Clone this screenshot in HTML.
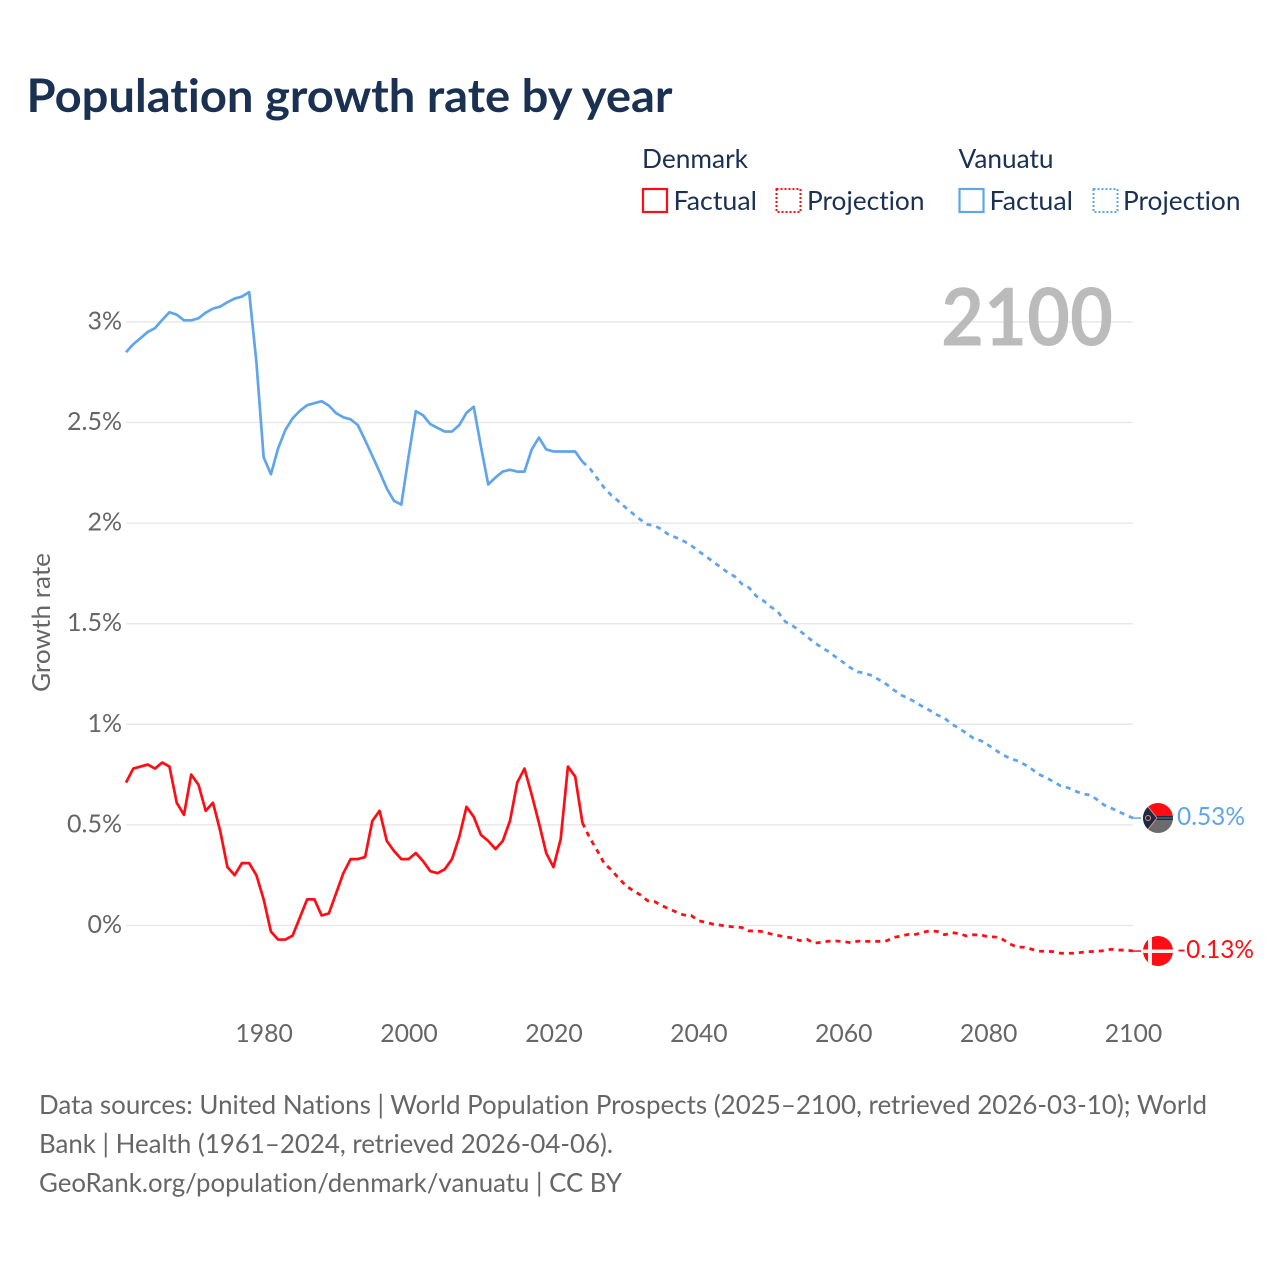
<!DOCTYPE html>
<html lang="en">
<head>
<meta charset="utf-8">
<title>Population growth rate by year</title>
<style>
html,body{margin:0;padding:0;background:#fff;width:1280px;height:1280px;overflow:hidden}
svg{display:block}
text{font-family:"Lato","Carlito","Liberation Sans",sans-serif;font-variant-ligatures:none}
</style>
</head>
<body>
<svg id="chart" xmlns="http://www.w3.org/2000/svg" width="1280" height="1280" viewBox="0 0 1280 1280">
  <defs>
    <clipPath id="vu-clip"><circle cx="1158" cy="818" r="15"/></clipPath>
    <clipPath id="dk-clip"><circle cx="1158" cy="951" r="15"/></clipPath>
  </defs>
  <rect x="0" y="0" width="1280" height="1280" fill="#fff"/>
  <text x="26.500" y="112" font-size="46" font-weight="700" fill="#1a3152" textLength="646" lengthAdjust="spacingAndGlyphs">Population growth rate by year</text>

  <g font-size="26" fill="#1a3152">
    <text x="642" y="168" textLength="106" lengthAdjust="spacingAndGlyphs">Denmark</text>
    <text x="958.500" y="168" textLength="95" lengthAdjust="spacingAndGlyphs">Vanuatu</text>
    <rect x="643" y="189" width="24" height="23" fill="none" stroke="#ff0d14" stroke-width="2.200"/>
    <text x="673.500" y="210" textLength="83.500" lengthAdjust="spacingAndGlyphs">Factual</text>
    <rect x="776.500" y="189" width="24" height="23" fill="none" stroke="#ff0d14" stroke-width="2" stroke-dasharray="2 2"/>
    <text x="807" y="210" textLength="117.500" lengthAdjust="spacingAndGlyphs">Projection</text>
    <rect x="959.500" y="189" width="24" height="23" fill="none" stroke="#60a5ec" stroke-width="2.200"/>
    <text x="989.500" y="210" textLength="83.500" lengthAdjust="spacingAndGlyphs">Factual</text>
    <rect x="1093.500" y="189" width="24" height="23" fill="none" stroke="#60a5ec" stroke-width="2" stroke-dasharray="2 2"/>
    <text x="1123" y="210" textLength="117.500" lengthAdjust="spacingAndGlyphs">Projection</text>
  </g>

  <g id="grid"></g>
  <text x="941" y="345.500" font-size="80" font-weight="700" fill="#bbbbbb" textLength="172" lengthAdjust="spacingAndGlyphs">2100</text>
  <g id="y-ticks"></g>
  <g id="x-ticks"></g>
  <text transform="translate(50 622.500) rotate(-90)" text-anchor="middle" font-size="25" fill="#666" textLength="139" lengthAdjust="spacingAndGlyphs">Growth rate</text>

  <g id="series"></g>

  <g clip-path="url(#vu-clip)">
    <rect x="1143" y="803" width="30" height="15" fill="#ff0d14"/>
    <rect x="1143" y="818" width="30" height="15" fill="#6b6b6b"/>
    <rect x="1155" y="816" width="18" height="4" fill="#1a2b45"/>
    <polygon points="1143,803 1145,803 1157,818 1145,833 1143,833" fill="#1a2b45"/>
    <polyline points="1145,803 1157,818 1145,833" fill="none" stroke="#f08a78" stroke-width="1"/>
    <line x1="1157" y1="818" x2="1173" y2="818" stroke="#5d7a9a" stroke-width="1"/>
    <circle cx="1148" cy="818" r="2.500" fill="none" stroke="#f08a78" stroke-width="1"/>
  </g>
  <g clip-path="url(#dk-clip)">
    <rect x="1143" y="936" width="30" height="30" fill="#ff0d14"/>
    <rect x="1148" y="936" width="4" height="30" fill="#f4f0f0"/>
    <rect x="1143" y="949.500" width="30" height="3.500" fill="#f4f0f0"/>
  </g>
  <text x="1177" y="825" font-size="25" fill="#60a5ec" textLength="68" lengthAdjust="spacingAndGlyphs">0.53%</text>
  <text x="1177" y="958" font-size="25" fill="#ff0d14" textLength="77" lengthAdjust="spacingAndGlyphs">-0.13%</text>

  <g font-size="26" fill="#666">
    <text x="39" y="1114" textLength="1168" lengthAdjust="spacingAndGlyphs">Data sources: United Nations | World Population Prospects (2025–2100, retrieved 2026-03-10); World</text>
    <text x="39" y="1153" textLength="574" lengthAdjust="spacingAndGlyphs">Bank | Health (1961–2024, retrieved 2026-04-06).</text>
    <text x="39" y="1192" textLength="583" lengthAdjust="spacingAndGlyphs">GeoRank.org/population/denmark/vanuatu | CC BY</text>
  </g>
</svg>
<script>
const yTickValues = [0, 0.5, 1, 1.5, 2, 2.5, 3];
const yTickLabels = ["0%", "0.5%", "1%", "1.5%", "2%", "2.5%", "3%"];
const xTickValues = [1980, 2000, 2020, 2040, 2060, 2080, 2100];
const xTickLabels = ["1980", "2000", "2020", "2040", "2060", "2080", "2100"];
const factualStartYear = 1961;
const projectionStartYear = 2025;

const denmarkFactual = [
  0.71, 0.78, 0.79, 0.80, 0.78, 0.81, 0.79, 0.61, 0.55, 0.75,
  0.70, 0.57, 0.61, 0.47, 0.29, 0.25, 0.31, 0.31, 0.25, 0.13,
  -0.03, -0.07, -0.07, -0.05, 0.04, 0.13, 0.13, 0.05, 0.06, 0.16,
  0.26, 0.33, 0.33, 0.34, 0.52, 0.57, 0.42, 0.37, 0.33, 0.33,
  0.36, 0.32, 0.27, 0.26, 0.28, 0.33, 0.44, 0.59, 0.54, 0.45,
  0.42, 0.38, 0.42, 0.52, 0.71, 0.78, 0.65, 0.51, 0.36, 0.29,
  0.43, 0.79, 0.74, 0.51
];
const denmarkProjection = [
  0.436, 0.375, 0.309, 0.276, 0.235, 0.198,
  0.173, 0.152, 0.123, 0.118, 0.098, 0.082, 0.066, 0.052, 0.05, 0.024,
  0.016, 0.007, 0.002, -0.004, -0.007, -0.01, -0.027, -0.027, -0.031, -0.042,
  -0.05, -0.056, -0.062, -0.075, -0.069, -0.088, -0.083, -0.078, -0.077, -0.08,
  -0.085, -0.078, -0.079, -0.079, -0.079, -0.076, -0.059, -0.052, -0.044, -0.044,
  -0.034, -0.026, -0.03, -0.046, -0.036, -0.04, -0.052, -0.046, -0.047, -0.056,
  -0.057, -0.069, -0.092, -0.107, -0.108, -0.118, -0.128, -0.128, -0.13, -0.138,
  -0.138, -0.138, -0.133, -0.13, -0.128, -0.125, -0.118, -0.122, -0.122, -0.127
];
const vanuatuFactual = [
  2.849, 2.889, 2.919, 2.95, 2.969, 3.01, 3.048, 3.036, 3.008, 3.008,
  3.018, 3.046, 3.066, 3.076, 3.098, 3.116, 3.126, 3.148, 2.80, 2.327,
  2.243, 2.372, 2.463, 2.521, 2.558, 2.586, 2.596, 2.606, 2.584, 2.546,
  2.526, 2.516, 2.487, 2.412, 2.334, 2.255, 2.172, 2.11, 2.092, 2.33,
  2.556, 2.536, 2.492, 2.473, 2.455, 2.455, 2.487, 2.548, 2.578, 2.379,
  2.192, 2.227, 2.256, 2.265, 2.256, 2.256, 2.366, 2.425, 2.366, 2.356,
  2.356, 2.356, 2.356, 2.305
];
const vanuatuProjection = [
  2.273, 2.224, 2.176, 2.138, 2.108, 2.076,
  2.046, 2.017, 1.993, 1.987, 1.967, 1.94, 1.927, 1.91, 1.889, 1.861,
  1.836, 1.809, 1.783, 1.756, 1.735, 1.698, 1.679, 1.637, 1.614, 1.584,
  1.558, 1.51, 1.49, 1.465, 1.435, 1.407, 1.382, 1.361, 1.333, 1.308,
  1.281, 1.261, 1.253, 1.242, 1.22, 1.198, 1.17, 1.145, 1.129, 1.109,
  1.087, 1.068, 1.046, 1.03, 1.0, 0.98, 0.955, 0.93, 0.919, 0.897,
  0.872, 0.849, 0.831, 0.819, 0.801, 0.778, 0.751, 0.735, 0.715, 0.694,
  0.685, 0.669, 0.654, 0.649, 0.627, 0.599, 0.583, 0.566, 0.549, 0.534
];

const NS = "http://www.w3.org/2000/svg";
function xScale(year) { return 126 + (year - 1961) * 7.245; }
function yScale(value) { return 925.5 - value * 201.2; }

const gridGroup = document.getElementById("grid");
const yTickGroup = document.getElementById("y-ticks");
const xTickGroup = document.getElementById("x-ticks");
const seriesGroup = document.getElementById("series");

yTickValues.forEach(function (value, i) {
  const line = document.createElementNS(NS, "line");
  
  
  line.setAttribute("x1", 126);
  line.setAttribute("x2", 1133);
  line.setAttribute("y1", yScale(value));
  line.setAttribute("y2", yScale(value));
  line.setAttribute("stroke", "#e8e8e8");
  line.setAttribute("stroke-width", "1.5");
  gridGroup.appendChild(line);

  const label = document.createElementNS(NS, "text");
  
  
  label.setAttribute("x", 122);
  label.setAttribute("y", yScale(value) + 7.5);
  label.setAttribute("text-anchor", "end");
  label.setAttribute("font-size", "25");
  label.setAttribute("fill", "#666");
  label.textContent = yTickLabels[i];
  yTickGroup.appendChild(label);
});

xTickValues.forEach(function (year, i) {
  const label = document.createElementNS(NS, "text");
  
  
  label.setAttribute("x", xScale(year) + 0.5);
  label.setAttribute("y", 1042);
  label.setAttribute("text-anchor", "middle");
  label.setAttribute("font-size", "25");
  label.setAttribute("fill", "#666");
  label.setAttribute("textLength", "57.5");
  label.setAttribute("lengthAdjust", "spacingAndGlyphs");
  label.textContent = xTickLabels[i];
  xTickGroup.appendChild(label);
});

function linePoints(startYear, values) {
  return values.map(function (v, i) {
    return xScale(startYear + i).toFixed(2) + "," + yScale(v).toFixed(2);
  });
}

function drawSeries(factual, projection, color, key) {
  const solid = document.createElementNS(NS, "polyline");
  
  
  solid.setAttribute("id", key + "-factual");
  solid.setAttribute("points", linePoints(factualStartYear, factual).join(" "));
  solid.setAttribute("fill", "none");
  solid.setAttribute("stroke", color);
  solid.setAttribute("stroke-width", "2.7");
  solid.setAttribute("stroke-linejoin", "round");
  seriesGroup.appendChild(solid);

  const lastFactual = factual[factual.length - 1];
  const startPoint = xScale(projectionStartYear - 1).toFixed(2) + "," + yScale(lastFactual).toFixed(2);
  const dashed = document.createElementNS(NS, "polyline");
  
  
  dashed.setAttribute("id", key + "-projection");
  dashed.setAttribute("points", startPoint + " " + linePoints(projectionStartYear, projection).join(" "));
  dashed.setAttribute("fill", "none");
  dashed.setAttribute("stroke", color);
  dashed.setAttribute("stroke-width", "2.8");
  dashed.setAttribute("stroke-dasharray", "5 5");
  seriesGroup.appendChild(dashed);

  const lastValue = projection[projection.length - 1];
  const lastYear = projectionStartYear + projection.length - 1;
  const connector = document.createElementNS(NS, "line");
  
  
  connector.setAttribute("x1", xScale(lastYear));
  connector.setAttribute("x2", xScale(lastYear) + 8);
  connector.setAttribute("y1", yScale(lastValue));
  connector.setAttribute("y2", yScale(lastValue));
  connector.setAttribute("stroke", color);
  connector.setAttribute("stroke-width", "1.5");
  seriesGroup.appendChild(connector);
}

drawSeries(denmarkFactual, denmarkProjection, "#ff0d14", "denmark");
drawSeries(vanuatuFactual, vanuatuProjection, "#60a5ec", "vanuatu");
</script>
</body>
</html>
